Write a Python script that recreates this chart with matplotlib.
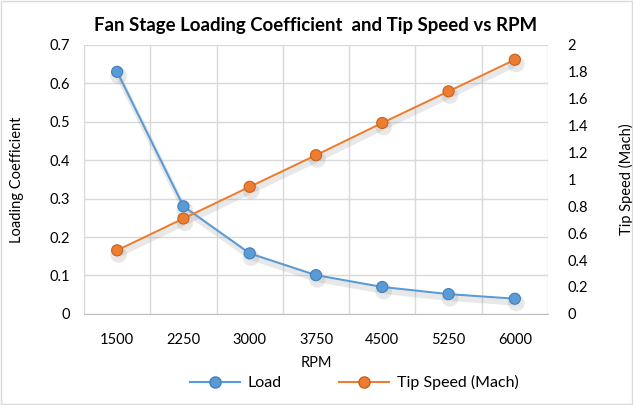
import matplotlib
matplotlib.use('Agg')
import matplotlib.pyplot as plt
import matplotlib.patheffects as pe
from matplotlib.patches import Rectangle
import numpy as np

rpm = [1500, 2250, 3000, 3750, 4500, 5250, 6000]
load = [0.63, 0.28, 0.1575, 0.1008, 0.07, 0.0514, 0.0394]
tip_speed = [0.4725, 0.709, 0.945, 1.18, 1.42, 1.655, 1.89]

left_ticks = [0, 0.1, 0.2, 0.3, 0.4, 0.5, 0.6, 0.7]
right_ticks = [0, 0.2, 0.4, 0.6, 0.8, 1, 1.2, 1.4, 1.6, 1.8, 2]

BLUE = '#5B9BD5'
ORANGE = '#ED7D31'
GRID = '#d9d9d9'
TXT = '#000000'

plt.rcParams['font.family'] = ['Lato', 'DejaVu Sans']

fig = plt.figure(figsize=(6.33, 4.05), dpi=100)
ax1 = fig.add_axes([0.1327, 0.225, 0.733, 0.664])
ax2 = ax1.twinx()

x = np.arange(len(rpm))
shadow = [pe.SimpleLineShadow(offset=(1, -3), shadow_color='#999999', alpha=0.22, linewidth=4),
          pe.Normal()]

ax1.plot(x, load, color=BLUE, linewidth=1.5, marker='o', markersize=8,
         markerfacecolor=BLUE, markeredgecolor='#3f7fbf', markeredgewidth=0.8,
         zorder=4, path_effects=shadow)
ax2.plot(x, tip_speed, color=ORANGE, linewidth=1.5, marker='o', markersize=8,
         markerfacecolor=ORANGE, markeredgecolor='#c8611c', markeredgewidth=0.8,
         zorder=4, path_effects=shadow)

ax1.set_xlim(-0.5, len(rpm) - 0.5)
ax1.set_ylim(0, 0.7)
ax2.set_ylim(0, 2)

ax1.set_xticks(x)
ax1.set_xticklabels([str(r) for r in rpm], fontsize=10.5, color=TXT)
ax1.set_xticks(np.arange(len(rpm) + 1) - 0.5, minor=True)
ax1.set_yticks(left_ticks)
ax1.set_yticklabels(['0' if v == 0 else f'{v:g}' for v in left_ticks], fontsize=10.5, color=TXT)
ax2.set_yticks(right_ticks)
ax2.set_yticklabels([f'{v:g}' for v in right_ticks], fontsize=10.5, color=TXT)

ax1.grid(axis='y', which='major', color=GRID, linewidth=1)
ax1.grid(axis='x', which='minor', color=GRID, linewidth=1)
ax1.set_axisbelow(True)
for a in (ax1, ax2):
    for s in a.spines.values():
        s.set_visible(False)
    a.tick_params(length=0, which='both', pad=10)
ax1.tick_params(axis='x', pad=14)
ax2.tick_params(axis='y', pad=14)
ax1.spines['bottom'].set_visible(True)
ax1.spines['bottom'].set_color('#bfbfbf')

ax1.set_xlabel('RPM', fontsize=10.5, labelpad=6)
ax1.set_ylabel('Loading Coefficient', fontsize=10.5, labelpad=18)
ax2.set_ylabel('Tip Speed (Mach)', fontsize=10.5, labelpad=22)
ax1.set_title('Fan Stage Loading Coefficient  and Tip Speed vs RPM',
              fontsize=13.4, fontweight='bold', pad=10)

handles = [
    plt.Line2D([0], [0], color=BLUE, linewidth=1.5, marker='o', markersize=8,
               markerfacecolor=BLUE, markeredgecolor='#3f7fbf', label='Load'),
    plt.Line2D([0], [0], color=ORANGE, linewidth=1.5, marker='o', markersize=8,
               markerfacecolor=ORANGE, markeredgecolor='#c8611c', label='Tip Speed (Mach)'),
]
fig.legend(handles=handles, loc='center', bbox_to_anchor=(0.56, 0.055), ncol=2,
           frameon=False, fontsize=11.5, handlelength=3.1, handletextpad=0.5,
           columnspacing=3.6)

fig.patches.append(Rectangle((0.002, 0.002), 0.996, 0.996, transform=fig.transFigure,
                             fill=False, edgecolor='#d9d9d9', linewidth=1))

fig.savefig('out.png', dpi=100)
